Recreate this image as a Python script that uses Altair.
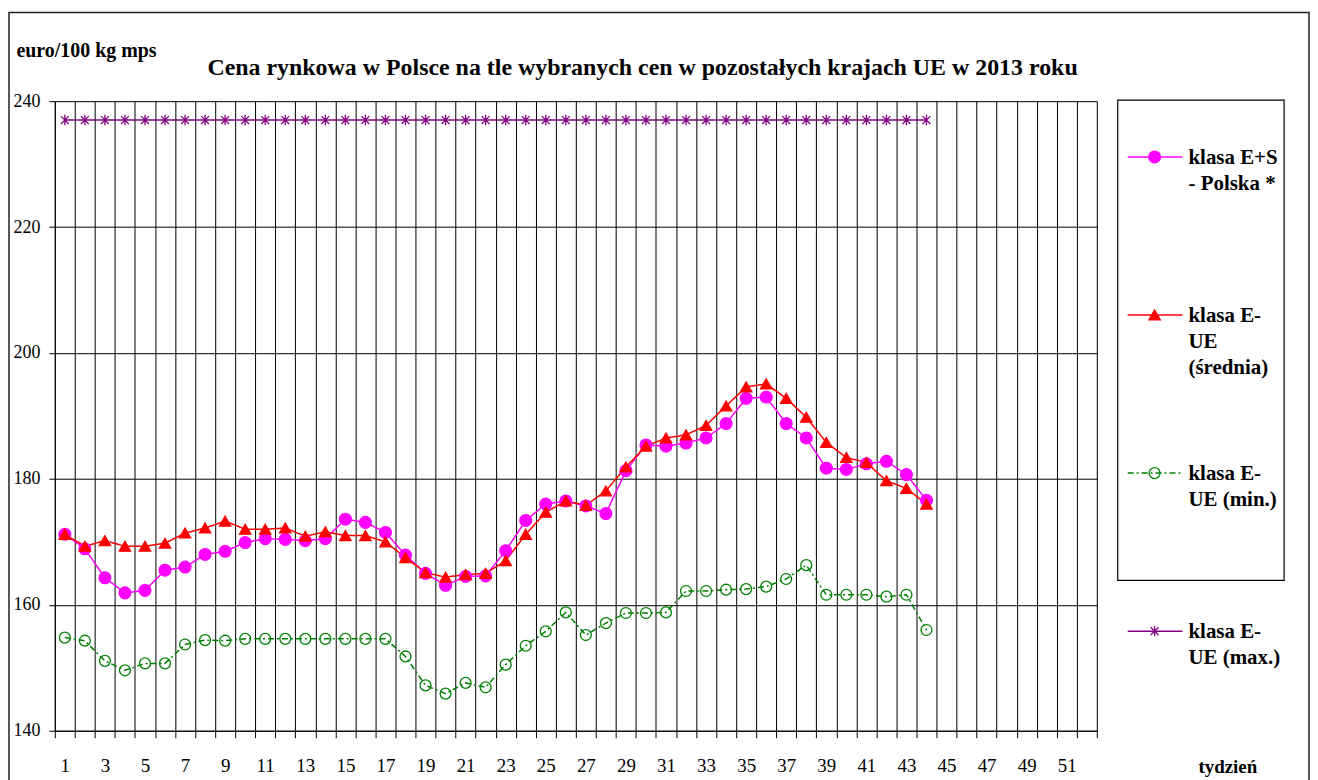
import altair as alt
import pandas as pd

# ---- data ----
weeks = list(range(1, 45))

polska = [171.2, 168.9, 164.3, 161.9, 162.3, 165.5, 166.0, 168.0, 168.5, 169.9,
          170.5, 170.4, 170.2, 170.5, 173.6, 173.1, 171.5, 167.9, 165.0, 163.1,
          164.5, 164.6, 168.6, 173.4, 176.0, 176.5, 175.7, 174.5, 181.3, 185.4,
          185.2, 185.7, 186.5, 188.8, 192.8, 193.0, 188.8, 186.5, 181.7, 181.5,
          182.4, 182.8, 180.7, 176.6]

srednia = [171.2, 169.3, 170.2, 169.3, 169.3, 169.8, 171.4, 172.2, 173.3, 172.0,
           172.0, 172.2, 170.9, 171.6, 171.0, 171.0, 170.0, 167.5, 165.1, 164.4,
           164.8, 165.0, 167.0, 171.2, 174.7, 176.5, 175.8, 178.1, 181.9, 185.2,
           186.5, 187.0, 188.5, 191.6, 194.6, 195.1, 192.8, 189.8, 185.8, 183.4,
           182.6, 179.7, 178.5, 176.0]

minimum = [154.8, 154.3, 151.1, 149.6, 150.7, 150.7, 153.7, 154.4, 154.3, 154.6,
           154.6, 154.6, 154.6, 154.6, 154.6, 154.6, 154.6, 151.8, 147.2, 145.9,
           147.6, 146.9, 150.5, 153.5, 155.8, 158.8, 155.2, 157.1, 158.7, 158.7,
           158.8, 162.2, 162.2, 162.4, 162.5, 162.9, 164.1, 166.3, 161.6, 161.6,
           161.6, 161.3, 161.6, 156.0]

maximum = [237.0, 237.0, 237.0, 237.0, 237.0, 237.0, 237.0, 237.0, 237.0, 237.0,
           237.0, 237.0, 237.0, 237.0, 237.0, 237.0, 237.0, 237.0, 237.0, 237.0,
           237.0, 237.0, 237.0, 237.0, 237.0, 237.0, 237.0, 237.0, 237.0, 237.0,
           237.0, 237.0, 237.0, 237.0, 237.0, 237.0, 237.0, 237.0, 237.0, 237.0,
           237.0, 237.0, 237.0, 237.0]

names = ["klasa E+S - Polska *", "klasa E-UE (średnia)",
         "klasa E-UE (min.)", "klasa E-UE (max.)"]
legend_labels = ["klasa E+S\n- Polska *", "klasa E-\nUE\n(średnia)",
                 "klasa E-\nUE (min.)", "klasa E-\nUE (max.)"]
y_tick_values = [140, 160, 180, 200, 220, 240]
title_text = "Cena rynkowa w Polsce na tle wybranych cen w pozostałych krajach UE w  2013 roku"
y_title = "euro/100 kg mps"
x_title = "tydzień"

# ---- styles ----
colors = ["#FF00FF", "#FF0000", "#008000", "#800080"]
fills = ["#FF00FF", "#FF0000", "transparent", "transparent"]
asterisk = "M0,-1L0,1M-0.75,-0.75L0.75,0.75M-0.75,0.75L0.75,-0.75"
shapes = ["circle", "triangle-up", "circle", asterisk]
sizes = [140, 110, 40, 85]
dashes = [[1, 0], [1, 0], [6, 3, 2, 3], [1, 0]]
widths = [1.5, 1.5, 2.0, 1.5]
FONT = "Liberation Serif"

records = []
for name, vals in zip(names, [polska, srednia, minimum, maximum]):
    for w, v in zip(weeks, vals):
        records.append({"week": w, "value": v, "series": name})
df = pd.DataFrame(records)
leg = pd.DataFrame({"series": names, "label": legend_labels})
one = pd.DataFrame({"k": [0]})

x_ticks = [i / 2 for i in range(1, 106)]
half = "datum.value % 1 != 0"

x_scale = alt.Scale(domain=[0.5, 52.5], nice=False, zero=False)
y_scale = alt.Scale(domain=[140, 240], nice=False, zero=False)

x_axis = alt.Axis(
    values=x_ticks, tickCount=500, grid=True, gridColor="black", gridWidth=1,
    gridOpacity={"condition": {"test": half, "value": 1}, "value": 0},
    ticks=True, tickSize=7, tickColor="black",
    tickOpacity={"condition": {"test": half, "value": 1}, "value": 0},
    labelExpr="datum.value % 2 == 1 ? '' + datum.value : ''",
    labelOverlap=False, labelFlush=False, labelPadding=19,
    labelFont=FONT, labelFontSize=19, labelColor="black",
    domainColor="black",
    title=x_title, titleX=1177, titleY=42, titleAlign="center",
    titleBaseline="alphabetic", titleFont=FONT, titleFontSize=19,
    titleFontWeight="bold", titleColor="black",
)
y_axis = alt.Axis(
    values=y_tick_values, grid=True, gridColor="black", gridWidth=1,
    tickSize=6, tickColor="black", domainColor="black",
    labelFont=FONT, labelFontSize=18, labelColor="black", labelPadding=9,
    labelFlush=False,
    title=y_title, titleAngle=0, titleAlign="left", titleBaseline="alphabetic",
    titleX=-39, titleY=-45, titleFont=FONT, titleFontSize=20,
    titleFontWeight="bold", titleColor="black",
)

stroke_enc = alt.Stroke("series:N", scale=alt.Scale(domain=names, range=colors), legend=None)
fill_enc = alt.Fill("series:N", scale=alt.Scale(domain=names, range=fills), legend=None)
shape_enc = alt.Shape("series:N", scale=alt.Scale(domain=names, range=shapes), legend=None)
size_enc = alt.Size("series:N", scale=alt.Scale(domain=names, range=sizes), legend=None)
dash_enc = alt.StrokeDash("series:N", scale=alt.Scale(domain=names, range=dashes), legend=None)
width_enc = alt.StrokeWidth("series:N", scale=alt.Scale(domain=names, range=widths), legend=None)

border = alt.Chart(one).mark_rect(fillOpacity=0, stroke="#222222", strokeWidth=1.5).encode(
    x=alt.value(-46), x2=alt.value(1259), y=alt.value(-89), y2=alt.value(700)
)

lines = alt.Chart(df).mark_line().encode(
    x=alt.X("week:Q", scale=x_scale, axis=x_axis),
    y=alt.Y("value:Q", scale=y_scale, axis=y_axis),
    stroke=stroke_enc, strokeDash=dash_enc, strokeWidth=width_enc,
    detail="series:N",
)

points = alt.Chart(df).mark_point(opacity=1, fillOpacity=1, strokeWidth=1.3).encode(
    x=alt.X("week:Q", scale=x_scale),
    y=alt.Y("value:Q", scale=y_scale, axis=None),
    stroke=stroke_enc, fill=fill_enc, shape=shape_enc, size=size_enc,
)

leg_y = alt.Y("series:N", scale=alt.Scale(type="point", domain=names, range=[56, 532], padding=0), axis=None)

leg_box = alt.Chart(one).mark_rect(fill="white", stroke="black", strokeWidth=1.2).encode(
    x=alt.value(1067), x2=alt.value(1234), y=alt.value(-1), y2=alt.value(481)
)
leg_lines = alt.Chart(leg).mark_rule().encode(
    x=alt.value(1077), x2=alt.value(1132), y=leg_y,
    stroke=stroke_enc, strokeDash=dash_enc, strokeWidth=width_enc,
)
leg_points = alt.Chart(leg).mark_point(opacity=1, fillOpacity=1, strokeWidth=1.3).encode(
    x=alt.value(1104), y=leg_y,
    stroke=stroke_enc, fill=fill_enc, shape=shape_enc, size=size_enc,
)
leg_text = alt.Chart(leg).mark_text(
    align="left", baseline="alphabetic", dy=7, font=FONT, fontSize=21,
    fontWeight="bold", lineBreak="\n", lineHeight=26, color="black",
).encode(x=alt.value(1138), y=leg_y, text="label:N")

chart = alt.layer(
    border, lines, points, leg_box, leg_lines, leg_points, leg_text
).resolve_scale(y="independent").properties(
    width=1046, height=632,
    padding={"left": 0, "top": 2, "right": 0, "bottom": 0},
    title=alt.TitleParams(
        text=title_text, font=FONT, fontSize=24, fontWeight="bold", color="black",
        anchor="middle", frame="group", dx=67, dy=72, offset=4,
    ),
).configure_view(stroke="black", strokeWidth=1).configure(background="white")

chart.save("out.html", embed_options={"renderer": "svg", "actions": False})
